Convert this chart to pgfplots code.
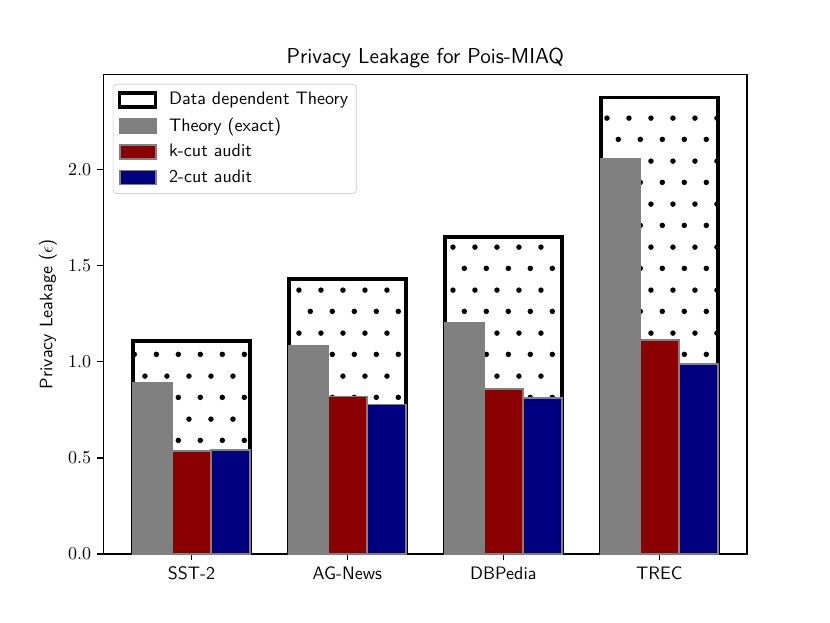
\documentclass[border=0pt]{standalone}
\usepackage{pgfplots}
\pgfplotsset{compat=1.18}
\usetikzlibrary{patterns.meta}
\pgfdeclarepattern{
  name=mpldots, type=uncolored,
  bottom left={\pgfpoint{0pt}{0pt}}, top right={\pgfpoint{12pt}{24pt}},
  tile size={\pgfpoint{12pt}{24pt}},
  code={
    \pgfpathcircle{\pgfpoint{3pt}{6pt}}{1.55pt}
    \pgfpathcircle{\pgfpoint{9pt}{18pt}}{1.55pt}
    \pgfusepath{fill}
  }
}
\definecolor{mgray}{HTML}{808080}
\definecolor{mred}{HTML}{8B0000}
\definecolor{mnavy}{HTML}{000080}
\definecolor{legframe}{HTML}{CCCCCC}
\pgfplotsset{
  my area legend/.style={legend image code/.code={\draw[##1, sharp corners] (0pt,-3.9pt) rectangle (20pt,3.9pt); \path (25pt,0pt);}},
  ddt legend/.style={legend image code/.code={\draw[line width=2pt, black, fill=white, sharp corners] (0pt,-3.9pt) rectangle (20pt,3.9pt); \path (25pt,0pt);}},
}

\pgfplotstableread{
x ddt theory kcut twocut
0 1.109 0.891 0.534 0.539
1 1.430 1.083 0.819 0.777
2 1.648 1.202 0.860 0.813
3 2.373 2.052 1.114 0.990
}\datatable

\begin{document}
\begin{tikzpicture}
\useasboundingbox (0,0) rectangle (460.8pt,345.6pt);
\begin{axis}[
  at={(57.6pt,38pt)}, anchor=south west,
  scale only axis, width=357.1pt, height=266.1pt,
  xmin=-0.5625, xmax=3.5625,
  ymin=0, ymax=2.4917,
  xtick={0,1,2,3},
  xticklabels={SST-2,AG-News,DBPedia,TREC},
  xticklabel style={font=\sffamily},
  ytick={0,0.5,1,1.5,2},
  yticklabel style={/pgf/number format/.cd, fixed, fixed zerofill, precision=1},
  tick align=outside, major tick length=3.5pt,
  xtick pos=bottom, ytick pos=left,
  tick style={black, line width=0.8pt},
  axis line style={line width=0.8pt},
  title={Privacy Leakage for Pois-MIAQ},
  title style={font=\fontsize{12}{14}\selectfont\sffamily, at={(0.5,1)}, anchor=south, yshift=-6pt},
  ylabel={Privacy Leakage ($\epsilon$)},
  ylabel style={font=\sffamily, at={(-0.087,0.5)}, anchor=center},
  legend style={at={(0.014,0.981)}, anchor=north west, draw=legframe,
    rounded corners=2pt, font=\sffamily, row sep=1.7pt, inner sep=2.6pt,
    cells={anchor=west}},
  legend cell align=left,
]
\addlegendimage{ddt legend}
\addlegendentry{Data dependent Theory}
\addplot[ybar, bar width=0.75, bar shift=0, draw=black, line width=2pt,
  fill=white, postaction={pattern=mpldots, pattern color=black}, forget plot]
  table[x=x, y=ddt] {\datatable};
\addplot[ybar, bar width=0.25, bar shift=-0.25, draw=mgray, fill=mgray, line width=1pt, my area legend]
  table[x=x, y=theory] {\datatable};
\addlegendentry{Theory (exact)}
\addplot[ybar, bar width=0.25, bar shift=0, draw=mgray, fill=mred, line width=1pt, my area legend]
  table[x=x, y=kcut] {\datatable};
\addlegendentry{k-cut audit}
\addplot[ybar, bar width=0.25, bar shift=0.25, draw=mgray, fill=mnavy, line width=1pt, my area legend]
  table[x=x, y=twocut] {\datatable};
\addlegendentry{2-cut audit}
\end{axis}
\end{tikzpicture}
\end{document}
